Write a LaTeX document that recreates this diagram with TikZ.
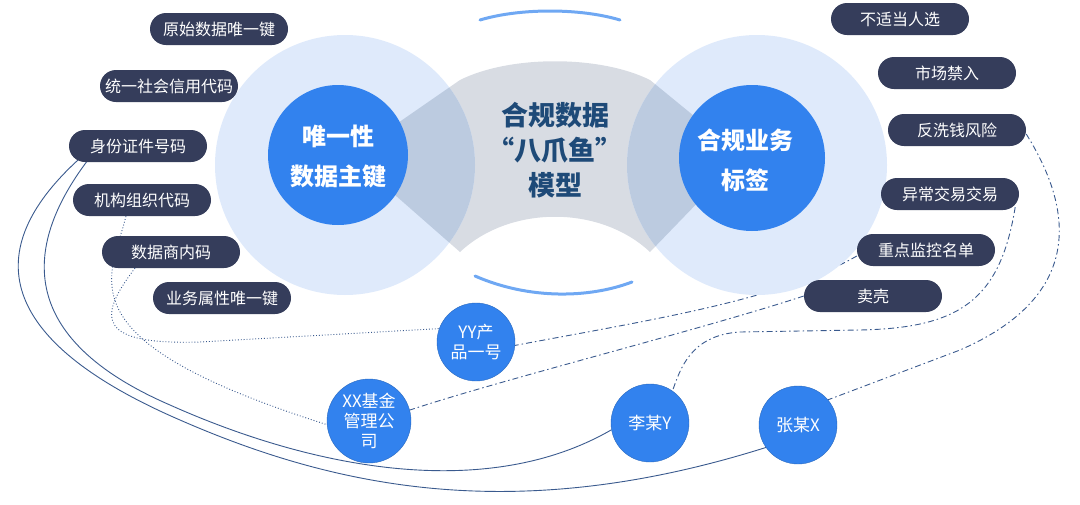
\documentclass[tikz,border=0pt]{standalone}
\usepackage{fontspec}
\setmainfont{Noto Sans CJK SC}
\usetikzlibrary{backgrounds}
\definecolor{pale}{HTML}{DFEAFB}
\definecolor{wedge}{HTML}{BCCBE0}
\definecolor{greyb}{HTML}{D8DCE3}
\definecolor{blu}{HTML}{3282EE}
\definecolor{navy}{HTML}{1E4A78}
\definecolor{pill}{HTML}{353D5B}
\definecolor{lnk}{HTML}{3A5A8E}
\tikzset{
 pillbox/.style={fill=pill,text=white,rounded corners=16pt,minimum width=138pt,minimum height=32pt,font=\fontsize{16}{17}\selectfont,inner sep=0pt},
 ball/.style={circle,fill=blu,draw=blu!80!black,line width=0.4pt,text=white,inner sep=0pt,align=center,font=\fontsize{17}{20}\selectfont},
 solidln/.style={draw=lnk,line width=0.9pt},
 dotln/.style={draw=lnk,line width=0.9pt,dotted},
 dashdot/.style={draw=lnk,line width=0.9pt,dash pattern=on 6pt off 3pt on 1.5pt off 3pt},
}
\begin{document}
\begin{tikzpicture}[x=1pt,y=-1pt]
\useasboundingbox (0,0) rectangle (1080,504);
\def\greyshape{(395,125) -- (460,80) .. controls (510,55) and (600,55) .. (650,80) -- (705,125) -- (705,195) -- (650,252) .. controls (600,205) and (510,205) .. (460,252) -- (395,195) -- cycle}
\fill[greyb] \greyshape;
\fill[pale] (345,165) circle (130);
\fill[pale] (757,165) circle (130);
\begin{scope}
\clip (345,165) circle (130) (757,165) circle (130);
\fill[wedge] \greyshape;
\end{scope}
\draw[blu!70,line width=3pt,line cap=round] (480,20) .. controls (520,8) and (580,8) .. (620,20);
\draw[blu!70,line width=3pt,line cap=round] (475,276) .. controls (530,300) and (590,298) .. (632,282);
\node[circle,fill=blu,minimum size=140pt,inner sep=0pt] (uk) at (338,155) {};
\node[circle,fill=blu,minimum size=146pt,inner sep=0pt] (tag) at (752,158) {};
\node[text=white,font=\bfseries\fontsize{24}{40}\selectfont,align=center] (ukt) at (338,157) {唯一性\\数据主键};
\node[text=white,font=\bfseries\fontsize{24}{40}\selectfont,align=center] (tagt) at (745,160) {合规业务\\标签};
\node[text=navy,font=\bfseries\fontsize{27}{35}\selectfont,align=center] (center) at (555,150) {合规数据\\“八爪鱼”\\模型};
\node[pillbox] (p1) at (219,29) {原始数据唯一键};
\node[pillbox] (p2) at (169,86) {统一社会信用代码};
\node[pillbox] (sfz) at (138,146) {身份证件号码};
\node[pillbox] (jg) at (142,200) {机构组织代码};
\node[pillbox] (sj) at (171,252) {数据商内码};
\node[pillbox] (yw) at (222,298) {业务属性唯一键};
\node[pillbox] (r1) at (900,19) {不适当人选};
\node[pillbox] (r2) at (947,73) {市场禁入};
\node[pillbox] (fx) at (957,130) {反洗钱风险};
\node[pillbox] (yc) at (950,194) {异常交易交易};
\node[pillbox] (zd) at (926,250) {重点监控名单};
\node[pillbox] (mk) at (873,296) {卖壳};
\node[ball,minimum size=78pt] (yy) at (476,342) {YY产\\品一号};
\node[ball,minimum size=84pt] (xx) at (369,421) {XX基金\\管理公\\司};
\node[ball,minimum size=78pt] (ly) at (650,423) {李某Y};
\node[ball,minimum size=78pt] (zx) at (798,425) {张某X};
\begin{scope}[on background layer]
\path[solidln] ([xshift=9pt,yshift=2pt]sfz.south west) .. controls (-20,250) and (-5,340) .. (180,420) .. controls (340,490) and (520,525) .. (zx.215);
\path[solidln] ([xshift=19pt,yshift=2pt]sfz.south west) .. controls (20,250) and (20,340) .. (170,405) .. controls (320,472) and (490,500) .. (ly.190);
\path[dotln] ([xshift=-16pt]jg.south) .. controls (110,280) and (60,340) .. (xx.185);
\path[dotln] ([xshift=-36pt]sj.south) .. controls (95,320) and (100,345) .. (200,342) -- (yy.160);
\path[dashdot] ([yshift=-6pt]zd.west) .. controls (780,300) and (650,320) .. (yy.-5);
\path[dashdot] (mk.west) .. controls (700,330) and (500,380) .. (xx.15);
\path[dashdot] ([xshift=-4pt,yshift=3pt]yc.south east) .. controls (1000,300) and (960,328) .. (860,330) -- (740,332) .. controls (690,335) and (680,370) .. (ly.55);
\path[dashdot] ([yshift=-4pt]fx.east) .. controls (1080,220) and (1075,300) .. (960,350) -- (zx.40);
\end{scope}
\end{tikzpicture}
\end{document}
